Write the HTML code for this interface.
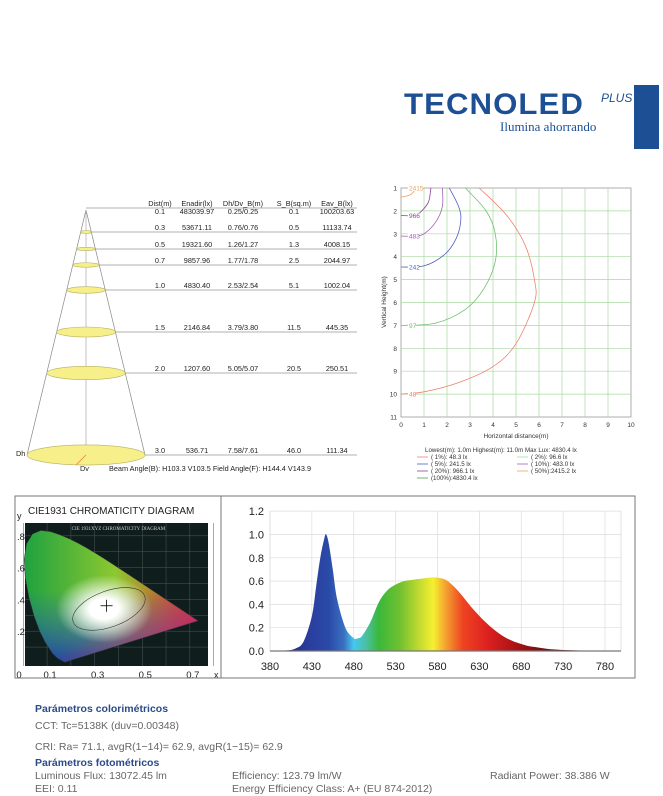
<!DOCTYPE html>
<html><head><meta charset="utf-8">
<style>
html,body{margin:0;padding:0;background:#fff;}
body{width:663px;height:796px;position:relative;overflow:hidden;font-family:"Liberation Sans",sans-serif;}
.abs{position:absolute;}
.t{position:absolute;font-size:10.5px;color:#666;white-space:nowrap;}
.h{position:absolute;font-size:10.5px;color:#2a4a8a;font-weight:bold;white-space:nowrap;}
</style></head><body>

<div class="abs" style="left:0;top:0;width:663px;height:160px;">
  <div class="abs" style="left:404px;top:88px;font-size:30px;font-weight:bold;color:#1d4f94;letter-spacing:1px;transform:scaleX(1.04);transform-origin:left;">TECNOLED</div>
  <div class="abs" style="left:601px;top:91px;font-size:12px;font-style:italic;color:#1d4f94;">PLUS</div>
  <div class="abs" style="left:500px;top:119px;font-size:13px;font-family:'Liberation Serif',serif;color:#1d4f94;">Ilumina ahorrando</div>
  <div class="abs" style="left:634px;top:85px;width:25px;height:64px;background:#1d4f94;"></div>
</div>

<svg class="abs" style="left:0;top:0" width="663" height="796" font-family="Liberation Sans, sans-serif">
  <g id="cone"></g>
  <g id="iso"></g>
  <g id="cie"></g>
  <g id="spec"></g>
</svg>

<div class="h" style="left:35px;top:703px;">Parámetros colorimétricos</div>
<div class="t" style="left:35px;top:720px;">CCT: Tc=5138K (duv=0.00348)</div>
<div class="t" style="left:35px;top:741px;">CRI: Ra= 71.1, avgR(1−14)= 62.9, avgR(1−15)= 62.9</div>
<div class="h" style="left:35px;top:757px;">Parámetros fotométricos</div>
<div class="t" style="left:35px;top:770px;">Luminous Flux: 13072.45 lm</div>
<div class="t" style="left:35px;top:783px;">EEI: 0.11</div>
<div class="t" style="left:232px;top:770px;">Efficiency: 123.79 lm/W</div>
<div class="t" style="left:232px;top:783px;">Energy Efficiency Class: A+ (EU 874-2012)</div>
<div class="t" style="left:490px;top:770px;">Radiant Power: 38.386 W</div>

<script>
const NS='http://www.w3.org/2000/svg';
function mk(parent,tag,attrs,text){const e=document.createElementNS(NS,tag);for(const k in attrs)e.setAttribute(k,attrs[k]);if(text!==undefined)e.textContent=text;parent.appendChild(e);return e;}
function smooth(p){let d='M'+p[0][0].toFixed(1)+','+p[0][1].toFixed(1);
  for(let i=0;i<p.length-1;i++){const p0=p[i-1]||p[i],p1=p[i],p2=p[i+1],p3=p[i+2]||p2;
    const c1=[p1[0]+(p2[0]-p0[0])/6,p1[1]+(p2[1]-p0[1])/6],c2=[p2[0]-(p3[0]-p1[0])/6,p2[1]-(p3[1]-p1[1])/6];
    d+=` C${c1[0].toFixed(1)},${c1[1].toFixed(1)} ${c2[0].toFixed(1)},${c2[1].toFixed(1)} ${p2[0].toFixed(1)},${p2[1].toFixed(1)}`;}
  return d;}

/* ---------- Cone table ---------- */
const coneDist=[0.1,0.3,0.5,0.7,1.0,1.5,2.0,3.0];
const coneEnadir=['483039.97','53671.11','19321.60','9857.96','4830.40','2146.84','1207.60','536.71'];
const coneDhDv=['0.25/0.25','0.76/0.76','1.26/1.27','1.77/1.78','2.53/2.54','3.79/3.80','5.05/5.07','7.58/7.61'];
const coneS=['0.1','0.5','1.3','2.5','5.1','11.5','20.5','46.0'];
const coneEav=['100203.63','11133.74','4008.15','2044.97','1002.04','445.35','250.51','111.34'];
const coneHeaders=['Dist(m)','Enadir(lx)','Dh/Dv_B(m)','S_B(sq.m)','Eav_B(lx)'];
const rowY=[208,232,249,265,290,332,373,455];
const cone=document.getElementById('cone');
const ax=86, ay=210, by=455, halfBase=59;
mk(cone,'line',{x1:ax,y1:ay,x2:ax-halfBase,y2:by,stroke:'#888','stroke-width':0.7});
mk(cone,'line',{x1:ax,y1:ay,x2:ax+halfBase,y2:by,stroke:'#888','stroke-width':0.7});
mk(cone,'line',{x1:ax,y1:ay,x2:ax,y2:by,stroke:'#aaa','stroke-width':0.7});
coneDist.forEach((d,i)=>{
  const y=rowY[i];
  const rx=halfBase*(y-ay)/(by-ay);
  if(i>0){const el=mk(cone,'ellipse',{cx:ax,cy:y,rx:rx,ry:Math.max(1.5,rx*0.17),fill:'#f6ef8a',stroke:'#b5b060','stroke-width':0.6});
    
    }
  mk(cone,'line',{x1:i===0?ax:ax+rx,y1:y,x2:357,y2:y,stroke:'#666','stroke-width':0.6});
  const ty=i===0?y+6:y-2;
  const cols=[[160,d.toFixed(1)],[197,coneEnadir[i]],[243,coneDhDv[i]],[294,coneS[i]],[337,coneEav[i]]];
  cols.forEach(c=>{const t=mk(cone,'text',{x:c[0],y:ty,'font-size':7.3,'text-anchor':'middle',fill:'#222'},c[1]);
    
    });
});
[160,197,243,294,337].forEach((x,i)=>mk(cone,'text',{x:x,y:206,'font-size':7.3,'text-anchor':'middle',fill:'#222'},coneHeaders[i]));
mk(cone,'line',{x1:ax,y1:by,x2:ax-10,y2:by+10,stroke:'#e08030','stroke-width':0.7});
mk(cone,'text',{x:16,y:456,'font-size':7.3,fill:'#222'},'Dh');
mk(cone,'text',{x:80,y:471,'font-size':7.3,fill:'#222'},'Dv');
mk(cone,'text',{x:109,y:471,'font-size':7.3,fill:'#222'},'Beam Angle(B): H103.3 V103.5  Field Angle(F): H144.4 V143.9');

/* ---------- Isolux chart ---------- */
const isoXTicks=[0,1,2,3,4,5,6,7,8,9,10];
const isoYTicks=[1,2,3,4,5,6,7,8,9,10,11];
const iso1pct=[[0,10],[1,9.9],[2.5,9.5],[4,8.8],[5,7.8],[5.8,6],[5.8,5],[5.4,3.5],[4.6,2.2],[3.4,1]];
const iso2pct=[[0,7],[1.5,6.9],[2.8,6.3],[3.6,5.4],[4.1,4.2],[4.1,3],[3.7,2],[2.8,1]];
const iso5pct=[[0,4.45],[1,4.4],[1.9,3.9],[2.4,3.2],[2.6,2.4],[2.5,1.8],[2.1,1]];
const iso10pct=[[0,3.1],[0.6,3.1],[1,3],[1.5,2.5],[1.8,1.8],[1.8,1]];
const iso20pct=[[0,2.2],[0.6,2.2],[0.9,2],[1.2,1.6],[1.3,1]];
const iso50pct=[[0,1.4],[0.4,1.3],[0.6,1.1],[0.7,1]];
const isoSeries=[[iso1pct,'#f08070','48',10],[iso2pct,'#70c070','97',7],[iso5pct,'#5060c0','242',4.45],[iso10pct,'#a060b0','483',3.1],[iso20pct,'#9040a0','966',2.2],[iso50pct,'#f0a060','2415',1]];
const iso=document.getElementById('iso');
const ix0=401, ix1=631, iy0=188, iy1=417;
const IX=v=>ix0+(v-0)/10*(ix1-ix0);
const IY=v=>iy0+(v-1)/10*(iy1-iy0);
mk(iso,'rect',{x:ix0,y:iy0,width:ix1-ix0,height:iy1-iy0,fill:'#fff',stroke:'#999','stroke-width':0.8});
isoXTicks.forEach(v=>{
  if(v>0&&v<10)mk(iso,'line',{x1:IX(v),y1:iy0,x2:IX(v),y2:iy1,stroke:'#a8d8a0','stroke-width':0.7});
  mk(iso,'text',{x:IX(v),y:iy1+10,'font-size':6.5,'text-anchor':'middle',fill:'#333'},v);
});
isoYTicks.forEach(v=>{
  if(v>1&&v<11)mk(iso,'line',{x1:ix0,y1:IY(v),x2:ix1,y2:IY(v),stroke:'#a8d8a0','stroke-width':0.7});
  mk(iso,'text',{x:ix0-4,y:IY(v)+2.5,'font-size':6.5,'text-anchor':'end',fill:'#333'},v);
});
isoSeries.forEach(s=>{
  const p=mk(iso,'path',{d:smooth(s[0].map(q=>[IX(q[0]),IY(q[1])])),fill:'none',stroke:s[1],'stroke-width':0.8});
  
  
  mk(iso,'rect',{x:IX(0.3),y:IY(s[3])-3,width:s[2].length*3.8,height:6,fill:'#fff'});
  mk(iso,'text',{x:IX(0.35),y:IY(s[3])+2.5,'font-size':6.5,fill:s[1]},s[2]);
});
mk(iso,'text',{x:516,y:438,'font-size':6.5,'text-anchor':'middle',fill:'#333'},'Horizontal distance(m)');
mk(iso,'text',{x:0,y:0,'font-size':6.5,'text-anchor':'middle',fill:'#333',transform:'translate(386,302) rotate(-90)'},'Vertical Height(m)');
mk(iso,'text',{x:425,y:452,'font-size':6.2,fill:'#333'},'Lowest(m): 1.0m    Highest(m): 11.0m    Max Lux: 4830.4 lx');
const legL=[['#f08070','(  1%):  48.3 lx'],['#5060c0','(  5%): 241.5 lx'],['#9040a0','( 20%): 966.1 lx'],['#50a050','(100%):4830.4 lx']];
const legR=[['#a0d8a0','(  2%):  96.6 lx'],['#a060b0','( 10%): 483.0 lx'],['#f0a060','( 50%):2415.2 lx']];
const legY=[459,466,473,480];
legL.forEach((l,i)=>{mk(iso,'line',{x1:417,y1:legY[i]-2,x2:428,y2:legY[i]-2,stroke:l[0],'stroke-width':0.8});mk(iso,'text',{x:431,y:legY[i],'font-size':6.2,fill:'#333'},l[1]);});
legR.forEach((l,i)=>{mk(iso,'line',{x1:517,y1:legY[i]-2,x2:528,y2:legY[i]-2,stroke:l[0],'stroke-width':0.8});mk(iso,'text',{x:531,y:legY[i],'font-size':6.2,fill:'#333'},l[1]);});

/* ---------- Bottom frame ---------- */
const svg=document.querySelector('svg');
mk(svg,'rect',{x:15,y:496,width:620,height:182,fill:'none',stroke:'#777','stroke-width':1});
mk(svg,'line',{x1:221,y1:496,x2:221,y2:678,stroke:'#777','stroke-width':1});

/* ---------- CIE diagram ---------- */
const locusX=[0.1741,0.144,0.1241,0.0913,0.0687,0.0454,0.0235,0.0082,0.0039,0.0139,0.0389,0.0743,0.1142,0.1547,0.1929,0.2296,0.2658,0.3016,0.3373,0.3731,0.4087,0.4441,0.4788,0.5125,0.5448,0.5752,0.6029,0.6270,0.6482,0.6658,0.6915,0.7347];
const locusY=[0.005,0.030,0.0578,0.1327,0.2007,0.2950,0.4127,0.5384,0.6548,0.7502,0.8120,0.8338,0.8262,0.8059,0.7816,0.7543,0.7243,0.6923,0.6589,0.6245,0.5896,0.5547,0.5202,0.4866,0.4544,0.4242,0.3965,0.3725,0.3514,0.3340,0.3083,0.2653];
const cieXTicks=[0,0.1,0.3,0.5,0.7];
const cieYTicks=[0.2,0.4,0.6,0.8];
const cie=document.getElementById('cie');
const CX=v=>23.3+v*237.9, CY=v=>663-v*159;
const defs=mk(svg,'defs',{});
defs.innerHTML=`<clipPath id="hs"><polygon id="hsp"/></clipPath>
<linearGradient id="cg1" x1="0" y1="0" x2="1" y2="0"><stop offset="0" stop-color="#1aa040"/><stop offset="0.5" stop-color="#8cc830"/><stop offset="1" stop-color="#f02020"/></linearGradient>
<linearGradient id="cg2" x1="0" y1="0" x2="0" y2="1"><stop offset="0.45" stop-color="#2060d0" stop-opacity="0"/><stop offset="1" stop-color="#2030b0" stop-opacity="0.95"/></linearGradient>
<linearGradient id="cg3" x1="0" y1="0" x2="1" y2="1"><stop offset="0.55" stop-color="#e02060" stop-opacity="0"/><stop offset="0.9" stop-color="#e02060" stop-opacity="0.8"/></linearGradient>
<radialGradient id="cgw" cx="0.5" cy="0.5" r="0.5"><stop offset="0.3" stop-color="#fff"/><stop offset="1" stop-color="#fff" stop-opacity="0"/></radialGradient>
<linearGradient id="sg" gradientUnits="userSpaceOnUse" x1="270" y1="0" x2="621" y2="0"></linearGradient>`;
const pts=locusX.map((x,i)=>CX(x)+','+CY(locusY[i])).join(' ');
document.getElementById('hsp').setAttribute('points',pts);
mk(cie,'rect',{x:25,y:523,width:183,height:143,fill:'#0f1e1c'});
for(let i=0;i<9;i++){mk(cie,'line',{x1:CX(i*0.1),y1:523,x2:CX(i*0.1),y2:666,stroke:'#4a5a58','stroke-width':0.5});}
for(let i=1;i<9;i++){mk(cie,'line',{x1:25,y1:CY(i*0.1),x2:208,y2:CY(i*0.1),stroke:'#4a5a58','stroke-width':0.5});}
const hg=mk(cie,'g',{'clip-path':'url(#hs)'});
mk(hg,'rect',{x:20,y:525,width:190,height:145,fill:'url(#cg1)'});
mk(hg,'rect',{x:20,y:525,width:190,height:145,fill:'url(#cg2)'});
mk(hg,'rect',{x:20,y:525,width:190,height:145,fill:'url(#cg3)'});
mk(hg,'ellipse',{cx:CX(0.34),cy:CY(0.34),rx:48,ry:34,fill:'url(#cgw)'});
mk(hg,'ellipse',{cx:CX(0.36),cy:CY(0.34),rx:38,ry:18,fill:'none',stroke:'#333','stroke-width':0.6,transform:`rotate(-20 ${CX(0.36)} ${CY(0.34)})`});
const hs=mk(cie,'polygon',{points:pts,fill:'none',stroke:'#333','stroke-width':0.5});


mk(cie,'line',{x1:CX(0.35)-6,y1:CY(0.36),x2:CX(0.35)+6,y2:CY(0.36),stroke:'#000','stroke-width':0.8});
mk(cie,'line',{x1:CX(0.35),y1:CY(0.36)-6,x2:CX(0.35),y2:CY(0.36)+6,stroke:'#000','stroke-width':0.8});
mk(cie,'text',{x:CX(0.4),y:530,'font-size':5,'text-anchor':'middle',fill:'#ccc','font-family':'Liberation Serif, serif'},'CIE 1931XYZ CHROMATICITY DIAGRAM');
mk(cie,'text',{x:28,y:514,'font-size':10,fill:'#222'},'CIE1931 CHROMATICITY DIAGRAM');
mk(cie,'text',{x:17,y:519,'font-size':9,fill:'#222'},'y');
mk(cie,'text',{x:214,y:678,'font-size':9,fill:'#222'},'x');
cieXTicks.forEach(v=>mk(cie,'text',{x:v===0?19:CX(v)+3,y:678,'font-size':9.5,'text-anchor':'middle',fill:'#222'},v===0?'0':String(v)));
cieYTicks.forEach(v=>mk(cie,'text',{x:17,y:CY(v)+4,'font-size':9.5,fill:'#222'},String(v).replace('0.','.')));

/* ---------- Spectrum ---------- */
const specWl=[380,390,400,410,420,430,435,440,445,447,450,455,460,470,480,485,490,500,510,520,530,540,550,560,570,580,590,600,610,620,630,640,650,660,670,680,690,700,710,720,730,740,750,760,770,780];
const specVal=[0,0,0.005,0.02,0.08,0.3,0.55,0.8,0.97,1.0,0.93,0.7,0.45,0.2,0.11,0.11,0.13,0.25,0.42,0.52,0.57,0.6,0.61,0.62,0.63,0.63,0.61,0.55,0.47,0.38,0.3,0.23,0.17,0.12,0.085,0.06,0.04,0.03,0.02,0.013,0.009,0.006,0.004,0.003,0.002,0.001];
const specXTicks=[380,430,480,530,580,630,680,730,780];
const specYTicks=[0,0.2,0.4,0.6,0.8,1.0,1.2];
const spec=document.getElementById('spec');
const SX=l=>270+(l-380)*0.8375, SY=v=>651-v*116.5;
const sg=document.getElementById('sg');
[[380,'#2a1a6e'],[430,'#2a3fa0'],[450,'#2a4aa8'],[468,'#3a6fc0'],[480,'#44c8f0'],[495,'#4ac0a0'],[510,'#3ab83a'],[535,'#70c030'],[560,'#c8dc30'],[575,'#f5f030'],[590,'#f5a030'],[610,'#ee4422'],[640,'#dd2020'],[680,'#a01010'],[720,'#601010'],[800,'#3a0a0a']].forEach(s=>{
  mk(sg,'stop',{offset:((SX(s[0])-270)/351).toFixed(4),'stop-color':s[1]});});
mk(spec,'rect',{x:270,y:SY(1.2),width:351,height:SY(0)-SY(1.2),fill:'#fff',stroke:'#ccc','stroke-width':0.6});
specXTicks.forEach(l=>{
  mk(spec,'line',{x1:SX(l),y1:SY(1.2),x2:SX(l),y2:SY(0),stroke:'#ddd','stroke-width':0.7});
  mk(spec,'text',{x:SX(l),y:670,'font-size':11,'text-anchor':'middle',fill:'#222'},l);
});
specYTicks.forEach(v=>{
  mk(spec,'line',{x1:270,y1:SY(v),x2:621,y2:SY(v),stroke:'#ddd','stroke-width':0.7});
  mk(spec,'text',{x:264,y:SY(v)+4,'font-size':11,'text-anchor':'end',fill:'#222'},v.toFixed(1));
});
const sp=specWl.map((l,i)=>[SX(l),SY(specVal[i])]);
let d=smooth(sp)+' L'+SX(specWl[specWl.length-1])+','+SY(0)+' L'+SX(specWl[0])+','+SY(0)+' Z';
const area=mk(spec,'path',{d:d,fill:'url(#sg)'});


mk(spec,'line',{x1:270,y1:SY(0),x2:621,y2:SY(0),stroke:'#777','stroke-width':1.2});
</script>
</body></html>
